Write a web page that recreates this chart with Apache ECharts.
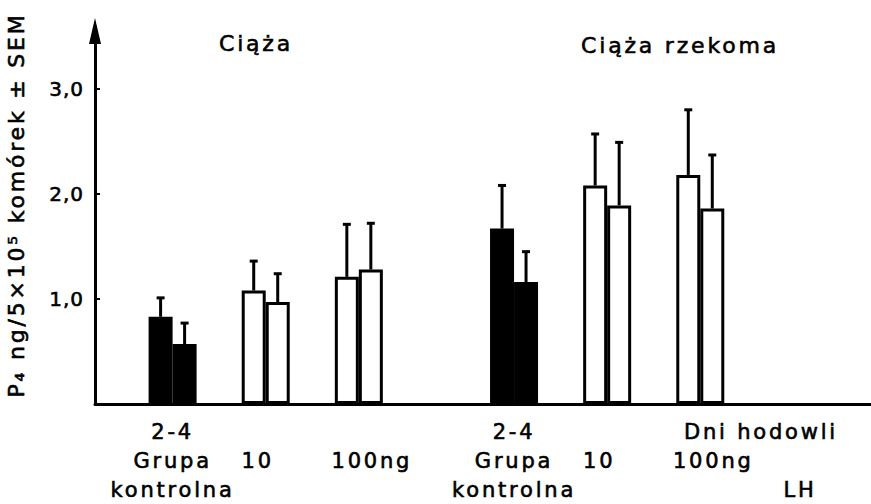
<!DOCTYPE html>
<html>
<head>
<meta charset="utf-8">
<script src="https://cdn.jsdelivr.net/npm/echarts@6/dist/echarts.min.js"></script>
<style>
  html, body { margin: 0; padding: 0; background: #fff; }
  #chart { width: 871px; height: 504px; }
  /* lettering: widely spaced, slightly heavy strokes */
  #chart text { letter-spacing: 2.8px; stroke: #000; stroke-width: 0.6px; }
  #chart text[text-anchor="end"] { letter-spacing: 1px; }
</style>
</head>
<body>
<div id="chart"></div>
<script>
// Slots along the x axis; empty strings are spacing slots between groups.
const categories = ['', '', 'Grupa kontrolna', '', '', '10', '', '', '100ng', '', '', '', '',
                    'Grupa kontrolna', '', '', '10', '', '', '100ng', '', '', '', '', ''];
const controlLabel = 'Grupa kontrolna';
const cultureDays = '2-4';

// Mean P4 secretion (ng / 5x10^5 cells) for each group, first and second bar of a pair
const meanFirst  = [0.83, 1.08, 1.21, 1.67, 2.08, 2.18];
const meanSecond = [0.57, 0.97, 1.28, 1.16, 1.89, 1.86];
// Standard error of the mean
const semFirst   = [0.18, 0.28, 0.50, 0.41, 0.49, 0.62];
const semSecond  = [0.20, 0.27, 0.44, 0.29, 0.60, 0.51];

const yTicks = [1, 2, 3];

const FONT = 'DejaVu Sans';
const BAR_W = 24;

// Spread group values over the slot list (null in spacer slots)
function spread(values) {
  let k = 0;
  return categories.map(c => (c ? values[k++] : null));
}
function errorData(means, sems) {
  const out = [];
  let k = 0;
  categories.forEach((c, i) => {
    if (c) { out.push([i, means[k], sems[k]]); k++; }
  });
  return out;
}
function errorBars(offset) {
  return function (params, api) {
    const x = api.coord([api.value(0), 0])[0] + offset;
    const yBase = api.coord([0, api.value(1)])[1];
    const yTop = api.coord([0, api.value(1) + api.value(2)])[1];
    const style = { stroke: '#000', lineWidth: 3 };
    return {
      type: 'group',
      children: [
        { type: 'line', shape: { x1: x, y1: yBase, x2: x, y2: yTop }, style },
        { type: 'line', shape: { x1: x - 4, y1: yTop, x2: x + 4, y2: yTop }, style }
      ]
    };
  };
}
const barColor = p => (categories[p.dataIndex] === controlLabel ? '#000' : '#fff');

const labelFont = { fontSize: 21, lineHeight: 29, fontFamily: FONT, color: '#000' };

const chart = echarts.init(document.getElementById('chart'), null, { renderer: 'svg' });
chart.setOption({
  backgroundColor: '#fff',
  animation: false,
  textStyle: { fontFamily: FONT, color: '#000' },
  grid: { left: 95, right: -4, top: 31, bottom: 98, containLabel: false },
  xAxis: {
    type: 'category',
    data: categories,
    axisLine: { lineStyle: { color: '#000', width: 3 } },
    axisTick: { show: false },
    axisLabel: Object.assign({
      interval: 0,
      margin: 13,
      formatter: v => {
        if (!v) return '';
        if (v === controlLabel) return cultureDays + '\n' + v.replace(' ', '\n');
        if (v === '10') return '\n{dl|' + v + '}';
        return '\n{dr|' + v + '}';
      },
      rich: {
        dl: Object.assign({ padding: [0, 16, 0, 0] }, labelFont),
        dr: Object.assign({ padding: [0, 0, 0, 26] }, labelFont)
      }
    }, labelFont)
  },
  yAxis: {
    type: 'value',
    min: 0,
    max: 3.55,
    interval: 1,
    splitLine: { show: false },
    axisLine: {
      show: true,
      symbol: ['none', 'triangle'],
      symbolSize: [12, 26],
      lineStyle: { color: '#000', width: 3 }
    },
    axisTick: {
      show: true,
      inside: true,
      length: 5,
      customValues: yTicks,
      lineStyle: { color: '#000', width: 2 }
    },
    axisLabel: {
      customValues: yTicks,
      margin: 11,
      fontSize: 20,
      color: '#000',
      fontFamily: FONT,
      formatter: v => v.toFixed(1).replace('.', ',')
    }
  },
  series: [
    {
      type: 'bar',
      name: 'pierwszy',
      data: spread(meanFirst),
      barWidth: BAR_W,
      barGap: '0%',
      itemStyle: { color: barColor, borderColor: '#000', borderWidth: 3 }
    },
    {
      type: 'bar',
      name: 'drugi',
      data: spread(meanSecond),
      barWidth: BAR_W,
      barGap: '0%',
      itemStyle: { color: barColor, borderColor: '#000', borderWidth: 3 }
    },
    {
      type: 'custom',
      name: 'SEM pierwszy',
      data: errorData(meanFirst, semFirst),
      renderItem: errorBars(-BAR_W / 2),
      z: 5
    },
    {
      type: 'custom',
      name: 'SEM drugi',
      data: errorData(meanSecond, semSecond),
      renderItem: errorBars(BAR_W / 2),
      z: 5
    }
  ],
  graphic: [
    {
      type: 'text', x: 256, y: 43,
      style: { text: 'Ciąża', font: '22px "DejaVu Sans"', fill: '#000', align: 'center', verticalAlign: 'middle' }
    },
    {
      type: 'text', x: 680, y: 45,
      style: { text: 'Ciąża rzekoma', font: '22px "DejaVu Sans"', fill: '#000', align: 'center', verticalAlign: 'middle' }
    },
    {
      type: 'text', x: 16, y: 205, rotation: Math.PI / 2,
      style: { text: 'P₄ ng/5×10⁵ komórek ± SEM', font: '22px "DejaVu Sans"', fill: '#000', align: 'center', verticalAlign: 'middle' }
    },
    {
      type: 'text', x: 761, y: 432,
      style: { text: 'Dni hodowli', font: '21px "DejaVu Sans"', fill: '#000', align: 'center', verticalAlign: 'middle' }
    },
    {
      type: 'text', x: 800, y: 490,
      style: { text: 'LH', font: '21px "DejaVu Sans"', fill: '#000', align: 'center', verticalAlign: 'middle' }
    }
  ]
});
</script>
</body>
</html>
